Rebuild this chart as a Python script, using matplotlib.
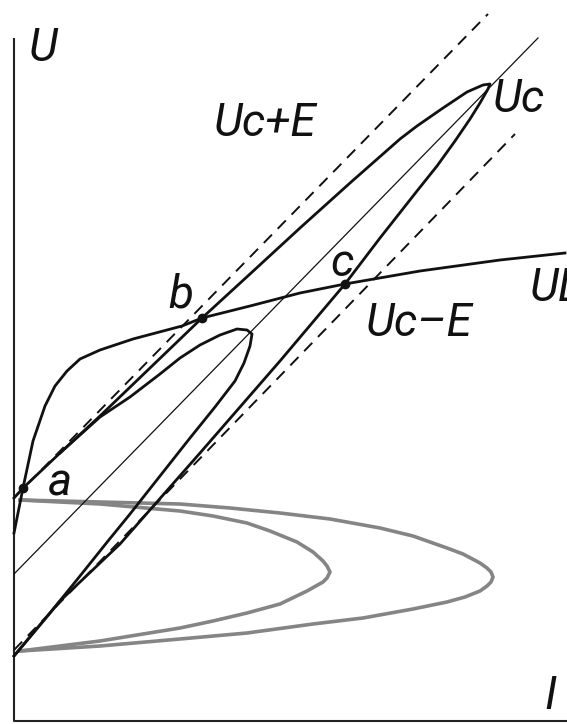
import matplotlib
matplotlib.use("Agg")
from matplotlib import pyplot as plt

# 电压-电流特性：Uc 直线、Uc±E 虚线、UL 曲线、两条回线与两条灰色曲线

# Uc 及 Uc±E 直线端点 (I, U)
uc_line_i = [0, 524]
uc_line_u = [147, 683]
uc_plus_e_i = [0, 474]
uc_plus_e_u = [223, 707]
uc_minus_e_i = [0, 501]
uc_minus_e_u = [71, 587]

# UL 曲线
ul_i = [0, 9, 19, 31, 41, 53, 66, 86, 119, 168, 188, 236, 286, 331, 406, 486, 551]
ul_u = [188, 233, 280, 315, 335, 350, 362, 371, 382, 395, 403, 415, 428, 437, 450, 461, 468]

# 大回线（上支 -> 顶点 Uc -> 下支）
big_i = [0, 9, 46, 86, 136, 188, 236, 286, 336, 386, 403, 429, 453, 469, 476,
         474, 466, 456, 441, 423, 403, 366, 331, 266, 186, 106, 46, 0]
big_u = [223, 233, 268, 305, 353, 403, 447, 493, 538, 582, 595, 613, 629, 636, 637,
         632, 618, 602, 580, 555, 530, 483, 437, 360, 268, 177, 120, 65]

# 小回线
small_i = [46, 86, 116, 146, 166, 186, 206, 223, 233, 238,
           236, 230, 221, 201, 176, 146, 116, 94, 66, 36, 0]
small_u = [268, 304, 324, 347, 363, 376, 386, 392, 391, 387,
           375, 358, 340, 314, 283, 245, 207, 180, 145, 108, 65]

# 灰色曲线（外、内）
outer_i = [6, 86, 166, 216, 266, 316, 366, 399, 433, 449, 466, 473, 477, 479,
           477, 473, 466, 451, 433, 399, 349, 299, 233, 166, 86, 6]
outer_u = [221, 219, 217, 213, 208, 202, 193, 185, 173, 167, 158, 153, 149, 144,
           139, 135, 130, 124, 119, 112, 103, 97, 88, 82, 75, 70]
inner_i = [6, 86, 166, 199, 233, 256, 283, 299, 309, 313, 316,
           313, 309, 293, 266, 233, 199, 166, 86, 6]
inner_u = [221, 217, 210, 205, 198, 190, 179, 169, 160, 155, 149,
           143, 139, 130, 117, 108, 100, 93, 80, 70]

# 交点 a, b, c
pts_name = ['a', 'b', 'c']
pts_i = [9, 188, 331]
pts_u = [233, 403, 437]

fig = plt.figure(figsize=(5.67, 7.24), dpi=100)
ax = fig.add_axes([0, 0, 1, 1])
ax.set_xlim(-14, 553)
ax.set_ylim(-3, 721)
ax.axis('off')

font = ['Roboto', 'DejaVu Sans']
ink = '#111111'

# 坐标轴
ax.plot([0, 0, 553], [683, 0, 0], color='#222222', lw=1.5, solid_capstyle='butt')

# 灰色曲线
ax.plot(outer_i, outer_u, color='#858585', lw=2.6, solid_joinstyle='round')
ax.plot(inner_i, inner_u, color='#858585', lw=2.6, solid_joinstyle='round')

# 直线
ax.plot(uc_line_i, uc_line_u, color=ink, lw=0.9)
ax.plot(uc_plus_e_i, uc_plus_e_u, color=ink, lw=1.4, dashes=(6, 4.2))
ax.plot(uc_minus_e_i, uc_minus_e_u, color=ink, lw=1.4, dashes=(6, 4.2))

# 曲线
ax.plot(ul_i, ul_u, color=ink, lw=2.0, solid_joinstyle='round')
ax.plot(big_i, big_u, color=ink, lw=2.0, solid_joinstyle='round')
ax.plot(small_i, small_u, color=ink, lw=2.0, solid_joinstyle='round')

ax.plot(pts_i, pts_u, 'o', color=ink, ms=6)

# 文字
txt = dict(family=font, style='italic', fontsize=33, color=ink,
           ha='center', va='center')
ax.text(29, 673, 'U', **txt)
ax.text(251, 598, 'Uc+E', **txt)
ax.text(505, 622, 'Uc', **txt)
ax.text(405, 398, 'Uc–E', **txt)
ax.text(516, 433, 'UL', **dict(txt, ha='left'))
ax.text(536, 25, 'I', **txt)
ax.text(46, 238, 'a', **txt)
ax.text(167, 427, 'b', **txt)
ax.text(328, 458, 'c', **txt)

plt.savefig('out.png', dpi=100)
